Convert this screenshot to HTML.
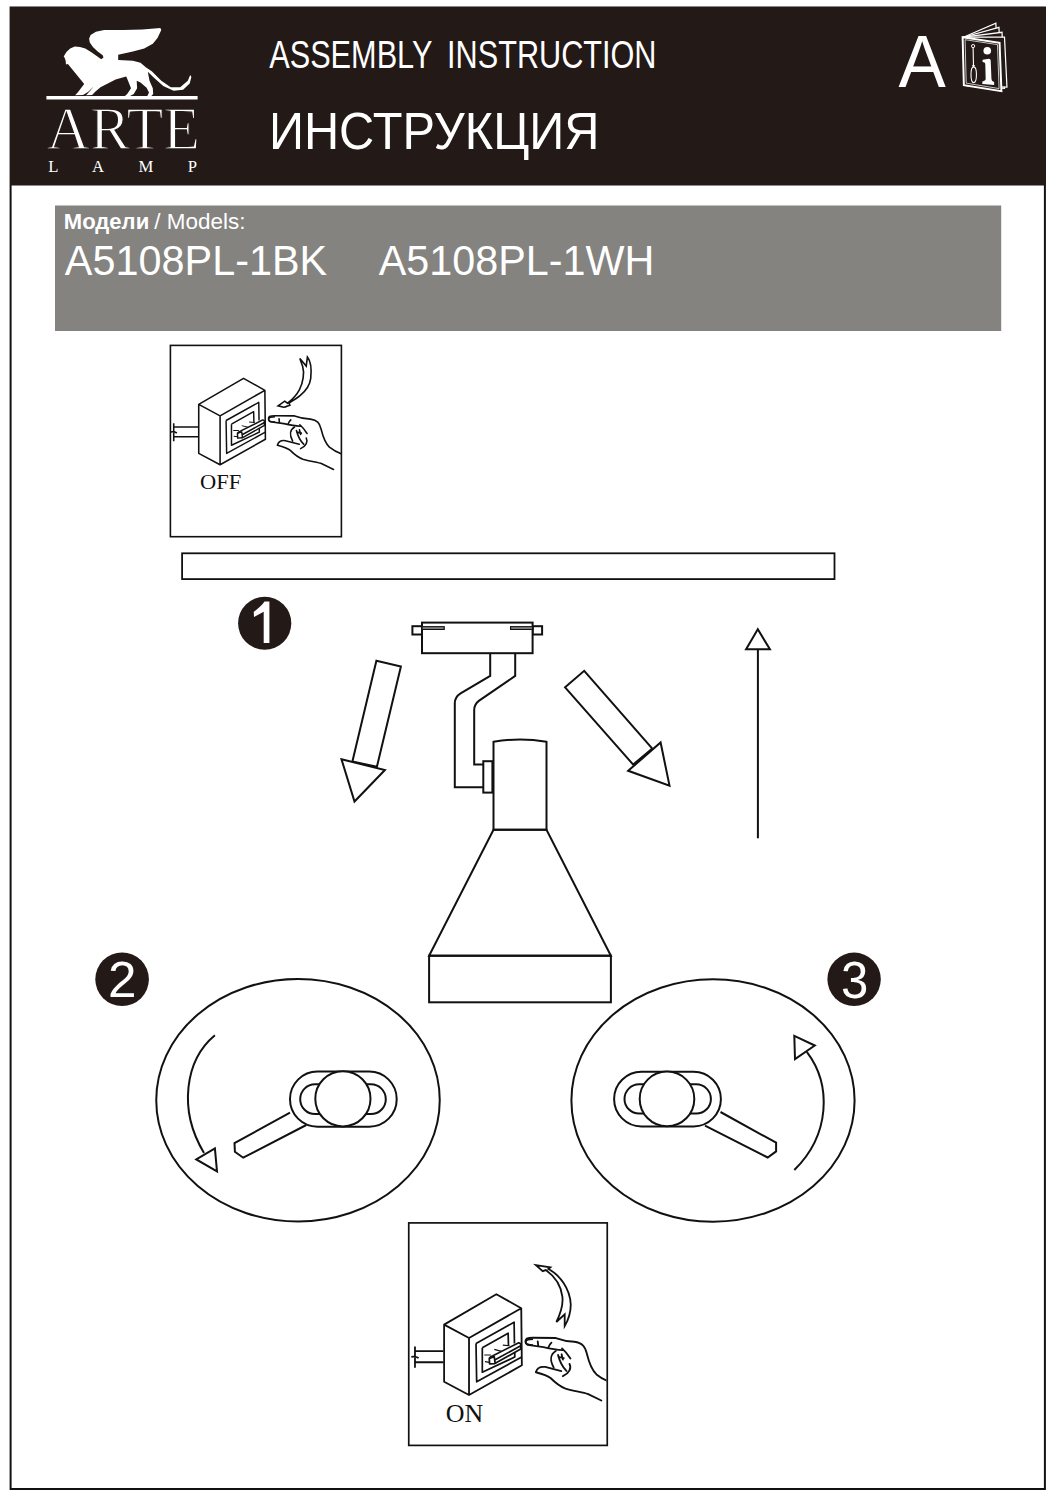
<!DOCTYPE html>
<html>
<head>
<meta charset="utf-8">
<style>
html,body{margin:0;padding:0;background:#fff;}
body{width:1056px;height:1500px;overflow:hidden;position:relative;font-family:"Liberation Sans",sans-serif;}
svg{position:absolute;left:0;top:0;display:block;}
</style>
</head>
<body>
<svg width="1056" height="1500" viewBox="0 0 1056 1500">
<!-- page frame -->
<rect x="10.6" y="7.5" width="1034.3" height="1481.5" fill="#fff" stroke="#111" stroke-width="2"/>
<!-- header -->
<rect x="10" y="7" width="1036" height="178.5" fill="#231916"/>

<!-- LOGO -->
<g fill="#fff">
<path id="lion" d="M63.7,56.5 L66.4,51.9 L70.2,48.5 L74.7,46.4 L80.0,47.0 L85.3,48.5 L91.4,52.3 L97.4,56.5 L101.2,59.3 L103.5,57.6 L102.7,55.3 L97.4,51.2 L92.9,47.0 L89.8,42.5 L89.1,38.7 L90.6,34.9 L95.9,31.8 L104.2,30.0 L123.4,30.0 L142.3,29.6 L160.3,27.9 L161.3,30.0 L157.5,38.1 L152.8,43.8 L144.2,48.5 L132.9,51.4 L118.2,54.7 L118.2,59.9 L132.9,60.8 L140.5,62.7 L146.1,67.5 L151.8,71.2 L161.3,80.7 L170.8,87.3 L180.2,87.3 L187.8,80.7 L190.2,75.0 L191.4,76.9 L189.7,83.6 L183.1,89.7 L173.6,90.7 L163.2,85.9 L153.7,77.4 L147.8,71.7 L149.5,80.7 L152.8,88.3 L153.2,94.0 L150.9,96.6 L147.1,96.6 L149.0,92.5 L146.6,87.8 L140.5,82.6 L136.7,80.7 L137.1,88.3 L133.8,94.0 L129.1,96.6 L124.4,96.6 L127.2,94.0 L131.0,88.3 L127.2,78.8 L126.2,76.5 L127.0,76.2 L115.6,79.6 L107.3,83.7 L100.5,87.2 L95.2,91.7 L92.1,95.1 L86.1,95.3 L90.6,90.2 L93.6,86.4 L88.3,91.7 L83.0,95.1 L75.1,95.3 L77.7,92.5 L84.2,84.1 L67.9,64.0 L66.0,64.4 L65.6,60.6 L64.5,57.6 Z"/>
<rect x="46.4" y="96" width="151.2" height="3.5"/>
</g>
<text x="46.5" y="148.9" font-family="Liberation Serif" font-size="61.4" fill="#fff" stroke="#231916" stroke-width="1.3" textLength="153.6" lengthAdjust="spacingAndGlyphs">ARTE</text>
<g font-family="Liberation Serif" font-size="16.7" fill="#fff" lengthAdjust="spacingAndGlyphs">
<text x="48.2" y="172" textLength="9.7">L</text><text x="92.1" y="172" textLength="10.9">A</text><text x="138.4" y="172" textLength="13.9">M</text><text x="187.7" y="172" textLength="9.2">P</text>
</g>

<!-- header titles -->
<text x="269.2" y="68" font-size="39.2" fill="#fff" textLength="163.2" lengthAdjust="spacingAndGlyphs">ASSEMBLY</text>
<text x="447.1" y="68" font-size="39.2" fill="#fff" textLength="209.35" lengthAdjust="spacingAndGlyphs">INSTRUCTION</text>
<text x="268.9" y="148.9" font-size="50.9" fill="#fff" textLength="330.5" lengthAdjust="spacingAndGlyphs">ИНСТРУКЦИЯ</text>
<text x="898.4" y="87.1" font-size="73.2" fill="#fff" textLength="47.3" lengthAdjust="spacingAndGlyphs">A</text>

<!-- book icon -->
<g transform="translate(890,20) scale(0.12311)" stroke="#fff" stroke-linejoin="miter">
 <path d="M596,140 L860,25 L880,560 L600,530 Z" fill="#231916" stroke-width="10"/>
 <path d="M596,140 L885,60 L905,560 L600,530 Z" fill="#231916" stroke-width="10"/>
 <path d="M596,140 L910,100 L930,555 L600,530 Z" fill="#231916" stroke-width="10"/>
 <path d="M596,140 L930,140 L950,545 L600,530 Z" fill="#231916" stroke-width="10"/>
 <path d="M590,140 L890,185 L905,578 L600,530 Z" fill="#231916" stroke-width="16"/>
 <path d="M610,160 L873,200 L886,557 L619,513 Z" fill="none" stroke-width="6"/>
 <circle cx="675" cy="212" r="13" fill="none" stroke-width="8"/>
 <path d="M675,225 L678,368 M666,372 L690,372 M678,362 L678,384" fill="none" stroke-width="9"/>
 <ellipse cx="680" cy="445" rx="22" ry="64" fill="none" stroke-width="9"/>
 <circle cx="790" cy="250" r="31" fill="#fff" stroke="none"/>
 <path d="M752,322 L803,314 C814,314 818,322 818,332 L824,478 C825,494 834,500 846,503 L846,527 L750,520 L750,499 C768,497 777,491 777,478 L774,362 C774,347 764,343 752,342 Z" fill="#fff" stroke="none"/>
</g>

<!-- models box -->
<rect x="55" y="205.5" width="946.2" height="125.5" fill="#84837f"/>
<text x="63.8" y="229.3" font-size="21.4" font-weight="bold" fill="#fff" textLength="85.4" lengthAdjust="spacingAndGlyphs">Модели</text>
<text x="154.3" y="229.3" font-size="21.4" fill="#fff" textLength="91.1" lengthAdjust="spacingAndGlyphs">/ Models:</text>
<text x="64.85" y="274.5" font-size="42.9" fill="#fff" textLength="262.4" lengthAdjust="spacingAndGlyphs">A5108PL-1BK</text>
<text x="378.75" y="274.5" font-size="42.9" fill="#fff" textLength="275.6" lengthAdjust="spacingAndGlyphs">A5108PL-1WH</text>

<!-- OFF box -->
<rect x="170.4" y="345.4" width="171" height="191.3" fill="none" stroke="#111" stroke-width="1.6"/>
<g id="sw">
 <g transform="translate(168,370) scale(0.10417)" fill="none" stroke="#111" stroke-width="15" stroke-linejoin="round">
  <path d="M295,330 L725,80 L930,195 L935,665 L500,910 L295,800 Z M295,330 L500,440 L930,195 M500,440 L500,910" fill="#fff"/>
  <path d="M55,548 L290,548 M55,640 L290,640 M55,510 L55,685 M25,595 C50,590 70,595 85,605"/>
 </g>
 <g transform="translate(215,385) scale(0.05682)" fill="none" stroke="#111" stroke-width="26" stroke-linejoin="round">
  <path d="M195,625 L770,305 L775,625 M195,625 L205,1205 L885,830"/>
  <path d="M290,690 L680,470 L685,660 M290,690 L290,1060 L780,830 L780,745"/>
  <path d="M600,650 L700,660 M470,715 L580,745 M320,800 L420,800 M330,900 L400,910" stroke-width="18"/>
  <path d="M420,825 L840,615 L870,630 L870,710 L480,930 L400,935 L395,850 Z" fill="#fff"/>
  <path d="M470,880 L870,660 M395,850 L470,825 L485,930" />
  <path d="M1056,560 C980,560 945,580 945,605 C945,640 980,650 1056,650"/>
 </g>
 <g transform="translate(265,410) scale(0.075758)" fill="none" stroke="#111" stroke-width="21" stroke-linecap="round" stroke-linejoin="round">
  <path d="M470,215 C420,212 380,210 250,180 L70,155 C40,145 40,100 60,85 C80,75 100,75 130,75 L390,78 C450,100 520,115 600,120 C690,135 720,170 740,250 C760,330 780,420 850,490 C900,530 960,560 1005,577"/>
  <path d="M165,462 C180,410 230,400 270,405 L452,452"/>
  <path d="M165,465 C220,480 290,500 330,530 C380,580 420,620 500,650 C600,680 700,690 750,710 L905,785"/>
  <path d="M390,225 C330,260 320,330 365,410 M460,195 C500,230 530,270 555,310 M415,270 C430,330 460,400 510,450 M545,370 C570,420 540,480 470,510 M185,115 L190,160 M340,130 C320,150 310,170 305,185 M420,292 L480,305 M455,262 L470,322"/>
</g>
</g>
<g transform="translate(270,350) scale(0.047348)" fill="none" stroke="#111" stroke-width="34" stroke-linejoin="miter">
 <path d="M630,180 L765,340 L790,150 C870,250 880,420 860,600 C840,760 760,860 640,960 C560,1030 470,1080 400,1120 L420,1165 C370,1185 320,1210 290,1210 L170,1180 L310,1080 L370,1125 C450,1060 540,990 620,840 C700,690 730,480 690,350 L630,180 Z"/>
</g>
<text x="200" y="488.75" font-family="Liberation Serif" font-size="21.5" fill="#111" textLength="41.2" lengthAdjust="spacingAndGlyphs">OFF</text>

<!-- bar -->
<rect x="182.1" y="553.3" width="652.4" height="25.8" fill="none" stroke="#111" stroke-width="1.8"/>

<!-- badges -->
<g fill="#231916"><circle cx="264.7" cy="623.25" r="26.6"/><circle cx="122.1" cy="979.2" r="26.8"/><circle cx="854.1" cy="979.3" r="26.7"/></g>
<path fill="#fff" d="M269.4,601.5 L269.4,643 L263.7,643 L263.7,611.8 L254,617 L253.75,611.8 C258,609 262,605 264.5,601.5 Z"/>
<text x="108.1" y="997.2" font-size="50.5" fill="#fff" textLength="28.5" lengthAdjust="spacingAndGlyphs">2</text>
<text x="841" y="998" font-size="51.6" fill="#fff" textLength="27.3" lengthAdjust="spacingAndGlyphs">3</text>

<!-- lamp -->
<g fill="none" stroke="#111" stroke-width="2" stroke-linejoin="miter">
 <rect x="412.4" y="626.2" width="9.6" height="8.3" fill="#fff"/>
 <rect x="532.6" y="626.2" width="9.5" height="8.3" fill="#fff"/>
 <rect x="422" y="622.6" width="110.6" height="30.6" fill="#fff"/>
 <rect x="422" y="626.7" width="22.2" height="2.7" fill="#999" stroke-width="1.2"/>
 <rect x="510.6" y="626.7" width="22" height="2.7" fill="#999" stroke-width="1.2"/>
 <path d="M490.2,653.2 L490.2,675.9 L460.6,693.3 Q454.8,697 454.8,703.2 L454.8,787.3 L483.3,787.3"/>
 <path d="M515.2,653.2 L515.2,675.9 L478.8,700.9 Q474.2,704.5 474.2,710 L474.2,764.5 L483.3,764.5"/>
 <rect x="483.3" y="761.2" width="9.1" height="31.4" fill="#fff"/>
 <path d="M493.5,829.7 L493.5,741.8 Q520,737 546.5,741.8 L546.5,829.7 Z"/>
 <path d="M493.5,829.7 L429.1,955.7 L610.9,955.7 L546.5,829.7 Z"/>
 <rect x="429.1" y="955.7" width="181.8" height="46.6"/>
 <!-- left arrow -->
 <path d="M376.4,660.7 L400.9,666.5 L376.9,766.8 L352.4,761.5 Z"/>
 <path d="M341.5,759.3 L384.9,770 L354.5,801.5 Z" fill="#fff"/>
 <!-- right arrow -->
 <path d="M565.1,687.3 L584.2,670.8 L652.3,748.6 L633.2,764.6 Z"/>
 <path d="M628.2,770.8 L660.6,742.5 L669.5,785.6 Z" fill="#fff"/>
 <!-- up arrow -->
 <path d="M757.9,838.3 L757.9,649.3"/>
 <path d="M746.1,649.3 L769.9,649.3 L757.8,629.3 Z"/>
</g>

<!-- circle 2 -->
<g fill="none" stroke="#111" stroke-width="2">
 <ellipse cx="298" cy="1100.2" rx="141.75" ry="121.25"/>
 <path d="M290,1112.6 L234.5,1143.1 L234.9,1151.8 L243.2,1157.7 L306.3,1125"/>
 <rect x="290" y="1071.6" width="106.7" height="55.1" rx="27.5" ry="27.5" fill="#fff"/>
 <rect x="300.2" y="1084.3" width="85.6" height="29.8" rx="14.9" ry="14.9"/>
 <circle cx="342.9" cy="1098.8" r="27.6" fill="#fff"/>
 <path d="M214.9,1035.2 C185,1060 178,1110 204,1152.9"/>
 <path d="M196.3,1159.4 L214.9,1148.5 L217,1171.4 Z" fill="#fff"/>
</g>
<!-- circle 3 -->
<g fill="none" stroke="#111" stroke-width="2">
 <ellipse cx="713" cy="1100.5" rx="141.6" ry="121.2"/>
 <path d="M720.5,1112 L776.1,1142.7 L776.1,1151.4 L767.7,1157.5 L705,1125.7"/>
 <rect x="614.1" y="1071.8" width="106.8" height="54.6" rx="27.3" ry="27.3" fill="#fff"/>
 <rect x="624.5" y="1084.3" width="86.4" height="29.3" rx="14.65" ry="14.65"/>
 <circle cx="667" cy="1098.9" r="27.3" fill="#fff"/>
 <path d="M794.3,1170 C830,1135 832,1085 806.8,1051.8"/>
 <path d="M794.3,1035.9 L814.8,1045.5 L795,1059.1 Z" fill="#fff"/>
</g>

<!-- ON box -->
<rect x="408.75" y="1222.9" width="198.5" height="222.5" fill="none" stroke="#111" stroke-width="1.7"/>
<clipPath id="onclip"><rect x="409.6" y="1223.7" width="196.9" height="220.9"/></clipPath>
<g clip-path="url(#onclip)"><use href="#sw" transform="translate(212.4,853.1) scale(1.166)"/></g>
<g transform="translate(520,1250) scale(0.07576)" fill="none" stroke="#111" stroke-width="24" stroke-linejoin="miter">
 <path d="M210,200 L400,230 L375,250 C520,330 660,500 670,720 C670,820 640,920 590,1005 L590,850 L480,950 C540,830 570,720 560,620 C540,460 450,340 340,265 L300,280 Z"/>
</g>
<text x="445.8" y="1422.2" font-family="Liberation Serif" font-size="24.4" fill="#111" textLength="37.5" lengthAdjust="spacingAndGlyphs">ON</text>
</svg>
</body>
</html>
